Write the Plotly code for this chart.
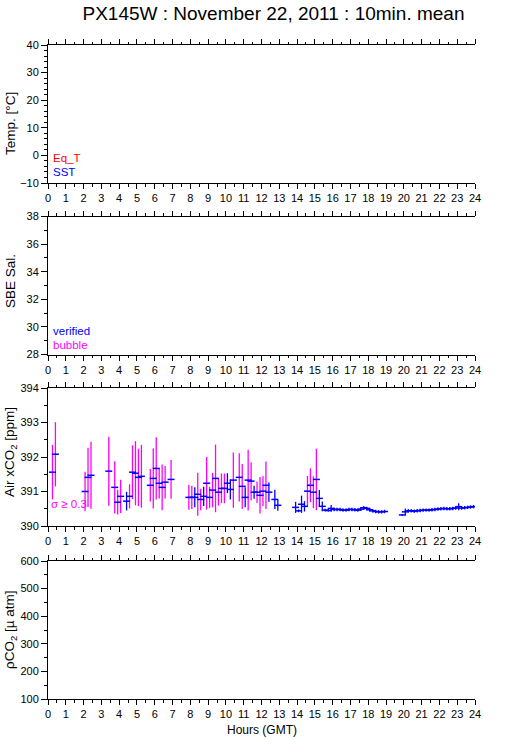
import plotly.graph_objects as go

# ---- data (Air xCO2 10-min means) ----
time_min = [15, 25, 125, 135, 145, 205, 225, 235, 245, 265, 275, 285, 295, 305, 315,
            345, 355, 365, 375, 385, 395, 415, 475, 485, 495, 505, 515, 525, 535, 545,
            555, 565, 575, 585, 595, 605, 615, 625, 645, 655, 665, 675, 685, 695, 705,
            715, 725, 735, 745, 765, 775, 835, 845, 855, 865, 875, 885, 895, 905, 915,
            925, 935, 945, 955, 965, 975, 985, 995, 1005, 1015, 1025, 1035, 1045, 1055,
            1065, 1075, 1085, 1095, 1105, 1115, 1125, 1135, 1195, 1205, 1215, 1225, 1235,
            1245, 1255, 1265, 1275, 1285, 1295, 1305, 1315, 1325, 1335, 1345, 1355, 1365,
            1375, 1385, 1395, 1405, 1415, 1425, 1435]
air_mean = [391.56, 392.08, 391.00, 391.41, 391.47, 391.59, 391.12, 390.69, 390.86, 390.72,
            390.86, 391.56, 391.53, 391.41, 391.44, 391.18, 391.38, 391.67, 391.24, 391.12,
            391.27, 391.35, 390.83, 390.83, 390.83, 390.92, 390.77, 390.86, 391.24, 390.83,
            391.04, 391.38, 390.98, 391.09, 391.09, 391.24, 391.06, 391.33, 391.41, 391.15,
            390.83, 391.33, 391.30, 390.98, 390.98, 390.89, 391.01, 391.18, 390.98, 390.77,
            390.60, 390.54, 390.44, 390.63, 390.57, 391.01, 391.18, 390.98, 391.35, 390.80,
            390.57, 390.46, 390.45, 390.51, 390.48, 390.48, 390.48, 390.46, 390.46, 390.48,
            390.48, 390.47, 390.46, 390.49, 390.53, 390.51, 390.47, 390.44, 390.42, 390.41,
            390.41, 390.42, 390.32, 390.41, 390.44, 390.44, 390.43, 390.44, 390.45, 390.46,
            390.46, 390.46, 390.47, 390.48, 390.49, 390.50, 390.51, 390.50, 390.50, 390.51,
            390.52, 390.56, 390.52, 390.53, 390.54, 390.55, 390.56]
air_sd = [0.79, 0.93, 0.57, 0.86, 0.97, 1.00, 0.76, 0.36, 0.48, 0.27,
          0.35, 0.78, 0.93, 0.83, 0.91, 0.47, 0.87, 0.90, 0.44, 0.66,
          0.47, 0.56, 0.36, 0.34, 0.29, 0.62, 0.31, 0.28, 0.76, 0.31,
          0.50, 0.98, 0.39, 0.43, 0.43, 0.29, 0.29, 0.80, 0.70, 0.65,
          0.29, 0.88, 0.55, 0.19, 0.31, 0.53, 0.43, 0.69, 0.28, 0.28,
          0.16, 0.16, 0.04, 0.25, 0.15, 0.44, 0.49, 0.46, 0.89, 0.24,
          0.14, 0.04, 0.04, 0.10, 0.05, 0.05, 0.05, 0.05, 0.05, 0.05,
          0.05, 0.05, 0.05, 0.05, 0.05, 0.05, 0.05, 0.05, 0.05, 0.05,
          0.05, 0.05, 0.02, 0.10, 0.05, 0.05, 0.05, 0.05, 0.05, 0.05,
          0.05, 0.05, 0.05, 0.05, 0.05, 0.05, 0.05, 0.05, 0.05, 0.05,
          0.05, 0.10, 0.05, 0.05, 0.05, 0.05, 0.05]
sigma_limit = 0.3

hour_ticks = list(range(0, 25))
panel_titles = ["Temp. [°C]", "SBE Sal.", "Air xCO<sub>2</sub> [ppm]", "ρCO<sub>2</sub> [µ atm]"]
panel_ranges = [[-10, 40], [28, 38], [390, 394], [100, 600]]
panel_dtick = [10, 2, 1, 100]
panel_minor = [2, 1, 0.5, 50]

hours = [t / 60.0 for t in time_min]

# ---- figure ----
FONT = "Liberation Sans, Arial, sans-serif"
W, H = 509, 739
ML, MR, MT, MB = 48, 34, 45, 40
pw = W - ML - MR
ph = H - MT - MB
tops = [45, 216.5, 388, 561]
height = 138
title_centers = [124, 281, 452, 630]


def py(ypix):
    return (H - MB - ypix) / ph


def px(xpix):
    return (xpix - ML) / pw


fig = go.Figure()

big = [i for i, s in enumerate(air_sd) if s >= sigma_limit]
small = [i for i, s in enumerate(air_sd) if s < sigma_limit]

for idx, col in [(big, "#ff00ff"), (small, "#0000ff")]:
    fig.add_trace(go.Scatter(
        x=[hours[i] for i in idx], y=[air_mean[i] for i in idx],
        mode="markers", marker=dict(size=1, opacity=0),
        error_y=dict(type="data", array=[air_sd[i] for i in idx], color=col,
                     thickness=1.3, width=0),
        xaxis="x3", yaxis="y3", showlegend=False, hoverinfo="skip"))

fig.add_trace(go.Scatter(
    x=hours, y=air_mean, mode="markers",
    marker=dict(symbol="line-ew", size=5, line=dict(width=1.5, color="#0000ff")),
    xaxis="x3", yaxis="y3", showlegend=False, hoverinfo="skip"))

# empty traces so the other panels exist
for k in (1, 2, 4):
    s = "" if k == 1 else str(k)
    fig.add_trace(go.Scatter(x=[None], y=[None], xaxis="x" + s, yaxis="y" + s,
                             showlegend=False, hoverinfo="skip"))

tickfont = dict(family=FONT, size=11, color="black")
layout = dict(
    width=W, height=H, margin=dict(l=ML, r=MR, t=MT, b=MB, autoexpand=False),
    paper_bgcolor="white", plot_bgcolor="white",
    title=dict(text="PX145W : November 22, 2011 : 10min. mean",
               x=273.5 / W, xanchor="center", xref="container",
               y=1 - 13 / H, yanchor="middle", yref="container",
               font=dict(family=FONT, size=19, color="black")),
    font=dict(family=FONT, size=11, color="black"),
)

for k in range(4):
    n = k + 1
    s = "" if n == 1 else str(n)
    layout["xaxis" + s] = dict(
        domain=[0, 1], anchor="y" + s, range=[0, 24], tickmode="array",
        tickvals=hour_ticks, ticktext=[str(h) for h in hour_ticks],
        ticks="outside", ticklen=5, tickwidth=1, tickcolor="black",
        showline=True, linecolor="black", linewidth=1, mirror="ticks",
        showgrid=False, zeroline=False, tickfont=tickfont, automargin=False,
        minor=dict(dtick=0.5, tick0=0, ticks="outside", ticklen=2.5, tickcolor="black",
                   showgrid=False))
    r = panel_ranges[k]
    d = [py(tops[k] + height), py(tops[k])]
    common = dict(range=r, dtick=panel_dtick[k], tick0=r[0],
                  ticks="outside", ticklen=6, tickwidth=1, tickcolor="black",
                  showline=True, linecolor="black", linewidth=1,
                  showgrid=False, zeroline=False, tickfont=tickfont, automargin=False,
                  minor=dict(dtick=panel_minor[k], tick0=r[0], ticks="outside", ticklen=3,
                             tickcolor="black", showgrid=False))
    layout["yaxis" + s] = dict(domain=d, anchor="x" + s, **common)
    layout["yaxis" + str(n + 4)] = dict(overlaying="y" + s, side="right", anchor="x" + s,
                                        **common)

fig.update_layout(**layout)

# y-axis titles
for k in range(4):
    fig.add_annotation(text=panel_titles[k], xref="paper", yref="paper",
                       x=px(10), y=py(title_centers[k]), xanchor="center", yanchor="middle",
                       textangle=-90, showarrow=False,
                       font=dict(family=FONT, size=13.5, color="black"))

fig.add_annotation(text="Hours (GMT)", xref="paper", yref="paper",
                   x=px(262), y=py(730), xanchor="center", yanchor="middle",
                   showarrow=False, font=dict(family=FONT, size=12, color="black"))


def label(text, ypix, color, x=51):
    fig.add_annotation(text=text, xref="paper", yref="paper",
                       x=px(x), y=py(ypix), xanchor="left", yanchor="middle",
                       showarrow=False, font=dict(family=FONT, size=11.5, color=color))


label("Eq_T", 158, "#ff0000")
label("SST", 172, "#0000ff")
label("verified", 331, "#0000ff")
label("bubble", 345, "#ff00ff")
label("σ ≥ 0.3", 504, "#ff00ff", x=49)

fig.write_html("out.html", config={"displayModeBar": False},
               post_script="document.body.style.margin='0px';"
               "document.body.style.overflow='hidden';")
